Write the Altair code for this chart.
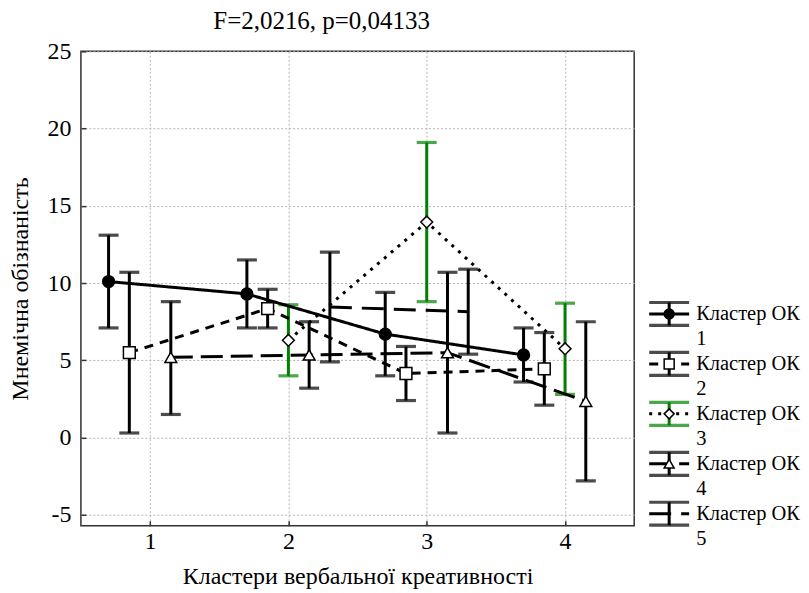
import altair as alt
import pandas as pd

# ---------------- data ----------------
clusters = [1, 2, 3, 4]
series_ids = [1, 2, 3, 4, 5]
legend_line1 = ["Кластер ОК", "Кластер ОК", "Кластер ОК", "Кластер ОК", "Кластер ОК"]
legend_line2 = ["1", "2", "3", "4", "5"]

s1_mean = [10.1, 9.3, 6.7, 5.35]
s1_lo = [7.1, 7.1, 4.0, 3.6]
s1_hi = [13.1, 11.5, 9.4, 7.1]

s2_mean = [5.5, 8.35, 4.15, 4.45]
s2_lo = [0.3, 7.1, 2.4, 2.1]
s2_hi = [10.7, 9.6, 5.9, 6.8]

s3_mean = [None, 6.3, 13.95, 5.75]
s3_lo = [None, 4.0, 8.8, 2.8]
s3_hi = [None, 8.6, 19.1, 8.7]

s4_mean = [5.2, 5.35, 5.5, 2.35]
s4_lo = [1.5, 3.2, 0.3, -2.8]
s4_hi = [8.8, 7.5, 10.7, 7.5]

s5_mean = [None, 8.45, 8.15, None]
s5_lo = [None, 4.9, 5.4, None]
s5_hi = [None, 12.0, 10.9, None]

means = [s1_mean, s2_mean, s3_mean, s4_mean, s5_mean]
los = [s1_lo, s2_lo, s3_lo, s4_lo, s5_lo]
his = [s1_hi, s2_hi, s3_hi, s4_hi, s5_hi]

# ---------------- styles ----------------
FONT = "Liberation Serif, Times New Roman, serif"
GREEN = "#008000"
dodge = [-0.3, -0.15, 0.0, 0.15, 0.3]
bar_colors = ["black", "black", GREEN, "black", "black"]
fills = ["black", "white", "white", "white", "white"]
shapes = ["circle", "square", "diamond", "triangle-up", "cross"]
dashes = [[1, 0], [9, 7], [3, 6], [22, 8], [22, 10]]

rows = []
for k, sid in enumerate(series_ids):
    for j, c in enumerate(clusters):
        if means[k][j] is None:
            continue
        rows.append({"series": sid, "x": c + dodge[k], "mean": means[k][j],
                     "lo": los[k][j], "hi": his[k][j]})
df = pd.DataFrame(rows)

color_scale = alt.Scale(domain=series_ids, range=bar_colors)
fill_scale = alt.Scale(domain=series_ids, range=fills)
shape_scale = alt.Scale(domain=series_ids, range=shapes)
dash_scale = alt.Scale(domain=series_ids, range=dashes)

x_scale = alt.Scale(domain=[0.5, 4.5], nice=False, zero=False)
y_scale = alt.Scale(domain=[-5.7, 25], nice=False, zero=False)

x_axis = alt.Axis(values=clusters, labelExpr="'' + datum.value", title="Кластери вербальної креативності",
                  offset=-5, tickSize=5, labelPadding=4, domain=False, grid=True,
                  titlePadding=11)
y_axis = alt.Axis(values=[-5, 0, 5, 10, 15, 20, 25], labelExpr="'' + datum.value",
                  title="Мнемічна обізнаність",
                  offset=-5, tickSize=5, labelPadding=10, domain=False, grid=True,
                  titlePadding=14)

X = alt.X("x:Q", scale=x_scale, axis=x_axis)

base = alt.Chart(df)

rules = base.mark_rule(strokeWidth=3).encode(
    x=X, y=alt.Y("lo:Q", scale=y_scale, axis=y_axis), y2="hi:Q",
    color=alt.Color("series:N", scale=color_scale, legend=None))
cap_lo = base.mark_tick(orient="horizontal", size=20, thickness=3.2).encode(
    x=X, y=alt.Y("lo:Q", scale=y_scale, axis=y_axis),
    color=alt.Color("series:N", scale=color_scale, legend=None))
cap_hi = base.mark_tick(orient="horizontal", size=20, thickness=3.2).encode(
    x=X, y=alt.Y("hi:Q", scale=y_scale, axis=y_axis),
    color=alt.Color("series:N", scale=color_scale, legend=None))
lines = base.mark_line(strokeWidth=3, color="black").encode(
    x=X, y=alt.Y("mean:Q", scale=y_scale, axis=y_axis),
    strokeDash=alt.StrokeDash("series:N", scale=dash_scale, legend=None),
    order="x:Q")
points = base.transform_filter("datum.series < 5").mark_point(
    filled=True, stroke="black", strokeWidth=1.5, opacity=1, size=140).encode(
    x=X, y=alt.Y("mean:Q", scale=y_scale, axis=y_axis),
    shape=alt.Shape("series:N", scale=shape_scale, legend=None),
    fill=alt.Fill("series:N", scale=fill_scale, legend=None))

main = alt.layer(rules, cap_lo, cap_hi, lines, points).properties(
    width=554, height=475,
    view=alt.ViewBackground(stroke="#333333", strokeWidth=1.5),
    title=alt.Title("F=2,0216, p=0,04133", fontSize=25, font=FONT, fontWeight="normal",
                    anchor="middle", dx=-36, offset=5, color="black"))

# ---------------- legend panel ----------------
LEG_CX = 23
LEG_HALF = 20
LEG_BAR = 0.23
LEG_TX = 50
leg = pd.DataFrame({"series": series_ids, "row": list(range(5)),
                    "line1": legend_line1, "line2": legend_line2})
leg["top"] = leg["row"] - LEG_BAR
leg["bot"] = leg["row"] + LEG_BAR
leg["row2"] = leg["row"] + 0.5
leg["cx"] = LEG_CX
leg["xl"] = LEG_CX - LEG_HALF
leg["xr"] = LEG_CX + LEG_HALF
leg["tx"] = LEG_TX

lx = alt.Scale(domain=[0, 150], nice=False, zero=False)
ly = alt.Scale(domain=[-5.26, 4.24], reverse=True, nice=False, zero=False)
lb = alt.Chart(leg)
LX = lambda f: alt.X(f, scale=lx, axis=None)
LY = lambda f: alt.Y(f, scale=ly, axis=None)

l_top = lb.mark_tick(orient="horizontal", size=40, thickness=3.2).encode(
    x=LX("cx:Q"), y=LY("top:Q"), color=alt.Color("series:N", scale=color_scale, legend=None))
l_bot = lb.mark_tick(orient="horizontal", size=40, thickness=3.2).encode(
    x=LX("cx:Q"), y=LY("bot:Q"), color=alt.Color("series:N", scale=color_scale, legend=None))
l_vert = lb.mark_rule(strokeWidth=3).encode(
    x=LX("cx:Q"), y=LY("top:Q"), y2="bot:Q",
    color=alt.Color("series:N", scale=color_scale, legend=None))
l_mid = lb.mark_rule(strokeWidth=3, color="black").encode(
    x=LX("xl:Q"), x2="xr:Q", y=LY("row:Q"),
    strokeDash=alt.StrokeDash("series:N", scale=dash_scale, legend=None))
l_pt = lb.transform_filter("datum.series < 5").mark_point(
    filled=True, stroke="black", strokeWidth=1.5, opacity=1, size=100).encode(
    x=LX("cx:Q"), y=LY("row:Q"),
    shape=alt.Shape("series:N", scale=shape_scale, legend=None),
    fill=alt.Fill("series:N", scale=fill_scale, legend=None))
l_t1 = lb.mark_text(align="left", baseline="middle", fontSize=20.5, font=FONT, color="black").encode(
    x=LX("tx:Q"), y=LY("row:Q"), text="line1:N")
l_t2 = lb.mark_text(align="left", baseline="middle", fontSize=20.5, font=FONT, color="black").encode(
    x=LX("tx:Q"), y=LY("row2:Q"), text="line2:N")

legend_panel = alt.layer(l_top, l_bot, l_vert, l_mid, l_pt, l_t1, l_t2).properties(
    width=150, height=475, view=alt.ViewBackground(stroke="transparent"))

chart = alt.hconcat(main, legend_panel, spacing=10).resolve_scale(
    x="independent", y="independent"
).properties(
    padding={"left": 0, "top": 0, "right": 0, "bottom": 0},
    background="white"
).configure_axis(
    labelFont=FONT, titleFont=FONT, labelFontSize=24, titleFontSize=24,
    labelColor="black", titleColor="black", titleFontWeight="normal",
    tickColor="#333333", tickWidth=1.5,
    gridColor="#b4b4b4", gridDash=[2, 2], gridWidth=1
)

chart.save("out.html", embed_options={"renderer": "svg", "actions": False})
